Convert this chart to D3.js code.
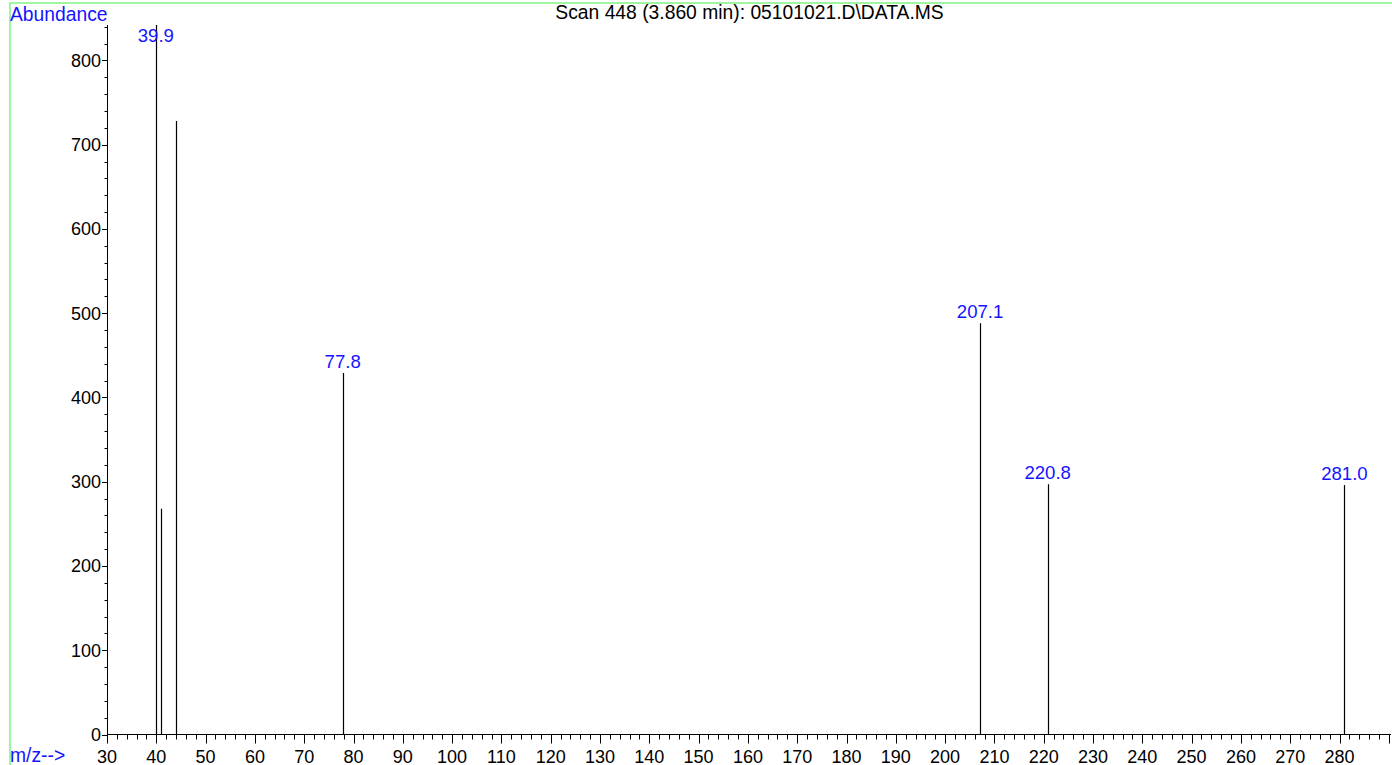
<!DOCTYPE html>
<html>
<head>
<meta charset="utf-8">
<script src="https://cdn.jsdelivr.net/npm/d3@7"></script>
<style>
  html, body { margin: 0; padding: 0; background: #fff; }
  svg { display: block; font-family: "Liberation Sans", Arial, sans-serif; }
</style>
</head>
<body>
<svg id="chart" width="1392" height="765"></svg>
<script>
// ---- data ----
const mzValues = [39.9, 41.0, 44.0, 77.8, 207.1, 220.8, 281.0];
const abundances = [842, 268, 728, 429, 488, 297, 296];
const peakLabels = ["39.9", "", "", "77.8", "207.1", "220.8", "281.0"];
const xTickValues = d3.range(30, 281, 10);
const yTickValues = [0, 100, 200, 300, 400, 500, 600, 700, 800];
const titleText = "Scan 448 (3.860 min): 05101021.D\\DATA.MS";
const yAxisLabel = "Abundance";
const xAxisLabel = "m/z-->";

// ---- layout ----
const W = 1392, H = 765;
const plotLeft = 107, plotRight = 1391, plotTop = 25, plotBottom = 734.5;

const svg = d3.select("#chart");

// frame
svg.append("rect")
  .attr("x", 10).attr("y", 3)
  .attr("width", W + 20).attr("height", H + 20)
  .attr("fill", "none")
  .attr("stroke", "#a0f5a0")
  .attr("stroke-width", 2);

const x = d3.scaleLinear().domain([30, 30 + (plotRight - plotLeft) / 4.93]).range([plotLeft, plotRight]);
const y = d3.scaleLinear().domain([0, 842]).range([plotBottom, plotTop]);

// axes
const gx = svg.append("g").attr("transform", `translate(0,${plotBottom})`);
gx.append("line").attr("x1", plotLeft).attr("x2", plotRight).attr("stroke", "#000");
const xMinor = d3.range(30, x.domain()[1], 2).filter(v => Math.round(v) % 10 !== 0);
gx.selectAll("line.minor").data(xMinor).join("line")
  .attr("class", "minor")
  .attr("x1", d => Math.round(x(d)) + 0.5).attr("x2", d => Math.round(x(d)) + 0.5)
  .attr("y1", 0).attr("y2", 5).attr("stroke", "#000");
gx.selectAll("line.major").data(d3.range(30, x.domain()[1], 10)).join("line")
  .attr("class", "major")
  .attr("x1", d => Math.round(x(d)) + 0.5).attr("x2", d => Math.round(x(d)) + 0.5)
  .attr("y1", 0).attr("y2", 9).attr("stroke", "#000");
gx.selectAll("text").data(xTickValues).join("text")
  .attr("x", d => x(d)).attr("y", 28)
  .attr("text-anchor", "middle")
  .attr("font-size", 18).attr("fill", "#000")
  .text(d => d);

const gy = svg.append("g").attr("transform", `translate(${plotLeft},0)`);
gy.append("line").attr("y1", plotTop).attr("y2", plotBottom).attr("x1", 0.5).attr("x2", 0.5).attr("stroke", "#000");
const yMinor = d3.range(0, 841, 20).filter(v => v % 100 !== 0);
gy.selectAll("line.minor").data(yMinor).join("line")
  .attr("class", "minor")
  .attr("y1", d => Math.round(y(d)) + 0.5).attr("y2", d => Math.round(y(d)) + 0.5)
  .attr("x1", 0).attr("x2", -2.5).attr("stroke", "#000");
gy.selectAll("line.major").data(yTickValues).join("line")
  .attr("class", "major")
  .attr("y1", d => Math.round(y(d)) + 0.5).attr("y2", d => Math.round(y(d)) + 0.5)
  .attr("x1", 0).attr("x2", -5).attr("stroke", "#000");
gy.selectAll("text").data(yTickValues).join("text")
  .attr("x", -6).attr("y", d => y(d) + 6.5)
  .attr("text-anchor", "end")
  .attr("font-size", 18).attr("fill", "#000")
  .text(d => d);

// peaks
const peaks = mzValues.map((m, i) => ({ m, a: abundances[i], label: peakLabels[i] }));
svg.append("g").selectAll("line").data(peaks).join("line")
  .attr("x1", d => Math.round(x(d.m)) + 0.5).attr("x2", d => Math.round(x(d.m)) + 0.5)
  .attr("y1", plotBottom).attr("y2", d => y(d.a))
  .attr("stroke", "#000").attr("stroke-width", 1.2);

svg.append("g").selectAll("text").data(peaks.filter(d => d.label)).join("text")
  .attr("x", d => x(d.m))
  .attr("y", d => Math.max(y(d.a) - 5, plotTop + 17))
  .attr("text-anchor", "middle")
  .attr("font-size", 18.6).attr("fill", "#1414ff")
  .text(d => d.label);

// titles
svg.append("text").attr("x", 749.5).attr("y", 19)
  .attr("text-anchor", "middle").attr("font-size", 19.3).attr("fill", "#000")
  .text(titleText);
svg.append("text").attr("x", 10).attr("y", 21)
  .attr("font-size", 19.3).attr("fill", "#1414ff")
  .text(yAxisLabel);
svg.append("text").attr("x", 10).attr("y", 762)
  .attr("font-size", 19.3).attr("fill", "#1414ff")
  .text(xAxisLabel);
</script>
</body>
</html>
